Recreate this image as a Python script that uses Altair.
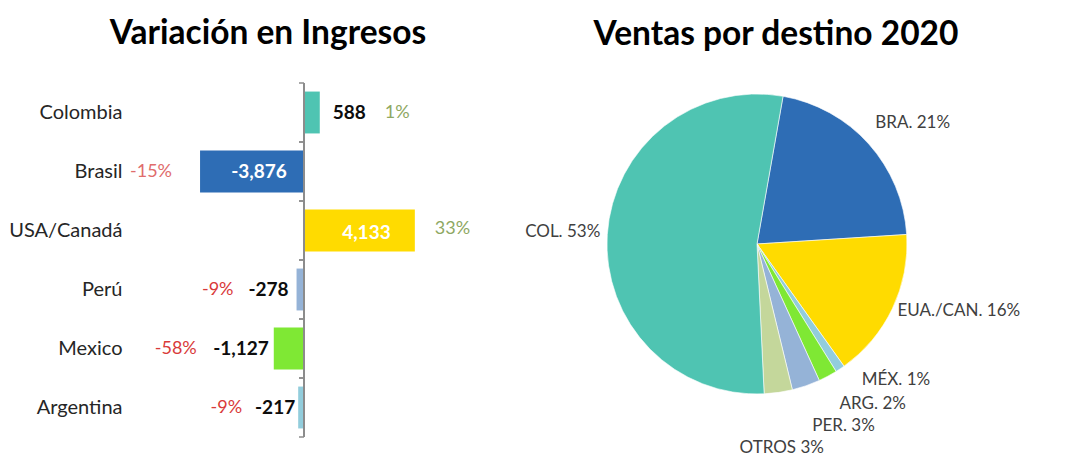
import math
import altair as alt
import pandas as pd

FONT = "Lato"

# ---- data: Variación en Ingresos ----
categories = ["Colombia", "Brasil", "USA/Canadá", "Perú", "Mexico", "Argentina"]
variacion = [588, -3876, 4133, -278, -1127, -217]
variacion_pct = [1, -15, 33, -9, -58, -9]
bar_colors = ["#4FC4B2", "#2E6DB5", "#FFDB00", "#95B3D7", "#7FE834", "#92CDDC"]

# ---- data: Ventas por destino 2020 ----
pie_labels = ["BRA. 21%", "EUA./CAN. 16%", "MÉX. 1%", "ARG. 2%", "PER. 3%", "OTROS 3%", "COL. 53%"]
pie_share = [21, 16, 1, 2, 3, 3, 53]
pie_colors = ["#2E6DB5", "#FFDB00", "#92CDDC", "#7FE834", "#95B3D7", "#C4D79B", "#4FC4B2"]

# ---------------- left: diverging bars ----------------
df = pd.DataFrame({"pais": categories, "valor": variacion, "pct": variacion_pct})
df["valor_txt"] = [f"{v:,}" for v in variacion]
df["pct_txt"] = [f"{p}%" for p in variacion_pct]
df["mitad"] = df["valor"] / 2

H_LEFT = 354
PAD_IN = 0.29
PAD_OUT = PAD_IN / 2
STEP = H_LEFT / len(categories)
xscale = alt.Scale(domain=[-6600, 6600])
yscale = alt.Scale(paddingInner=PAD_IN, paddingOuter=PAD_OUT)
Y = alt.Y(
    "pais:N", sort=categories, title=None, scale=yscale,
    axis=alt.Axis(ticks=False, domain=False, labelFont=FONT, labelFontSize=20,
                  labelColor="#262626", labelPadding=5, minExtent=122, maxExtent=122),
)

bars = alt.Chart(df).mark_bar().encode(
    x=alt.X("valor:Q", scale=xscale, axis=None),
    y=Y,
    color=alt.Color("pais:N", scale=alt.Scale(domain=categories, range=bar_colors), legend=None),
)

zero_line = alt.Chart(df).transform_calculate(zero="0").mark_rule(
    color="#8C8C8C", strokeWidth=1.5
).encode(x=alt.X("zero:Q", scale=xscale, axis=None))

# tick marks at the band boundaries
edge = PAD_OUT * STEP
tick_layers = []
for bp, off in ((0, -edge), (1, edge)):
    tick_layers.append(
        alt.Chart(df).transform_calculate(zero="0").mark_rule(
            color="#8C8C8C", strokeWidth=1.5, x2Offset=-5, yOffset=off
        ).encode(
            x=alt.X("zero:Q", scale=xscale, axis=None),
            x2="zero:Q",
            y=alt.Y("pais:N", sort=categories, title=None, scale=yscale, bandPosition=bp),
        )
    )

# label styles: (anchor field, align, dx, dy, colour)
value_style = {
    "Colombia": ("valor", "left", 13, 0, "#0D0D0D"),
    "Brasil": ("mitad", "center", 7, 0, "#FFFFFF"),
    "USA/Canadá": ("mitad", "center", 7, 2, "#FFFFFF"),
    "Perú": ("valor", "right", -8, 0, "#0D0D0D"),
    "Mexico": ("valor", "right", -5, 0, "#0D0D0D"),
    "Argentina": ("valor", "right", -3, 0, "#0D0D0D"),
}
pct_style = {
    "Colombia": ("left", 65, 0, "#8EA862"),
    "Brasil": ("right", -28, 0, "#E06C6C"),
    "USA/Canadá": ("left", 20, -2, "#8EA862"),
    "Perú": ("right", -63, 0, "#D93A3A"),
    "Mexico": ("right", -77, 0, "#D93A3A"),
    "Argentina": ("right", -56, 0, "#D93A3A"),
}

text_layers = []
for cat in categories:
    field, align, dx, dy, color = value_style[cat]
    text_layers.append(
        alt.Chart(df).transform_filter(alt.datum.pais == cat).mark_text(
            align=align, baseline="middle", dx=dx, dy=dy, font=FONT, fontSize=19,
            fontWeight="bold", color=color,
        ).encode(x=alt.X(f"{field}:Q", scale=xscale, axis=None), y=Y, text="valor_txt:N")
    )
    align, dx, dy, color = pct_style[cat]
    text_layers.append(
        alt.Chart(df).transform_filter(alt.datum.pais == cat).mark_text(
            align=align, baseline="middle", dx=dx, dy=dy, font=FONT, fontSize=18, color=color,
        ).encode(x=alt.X("valor:Q", scale=xscale, axis=None), y=Y, text="pct_txt:N")
    )

left = alt.layer(bars, zero_line, *tick_layers, *text_layers).properties(
    width=354, height=H_LEFT,
    title=alt.TitleParams("Variación en Ingresos", dx=-36),
)

# ---------------- right: pie ----------------
total = sum(pie_share)
cum = []
acc = 0
for s in pie_share:
    cum.append(acc)
    acc += s
pie_df = pd.DataFrame({"label": pie_labels, "share": pie_share})
pie_df["start"] = cum
pie_df["end"] = pie_df["start"] + pie_df["share"]
pie_df["mid"] = (pie_df["start"] + pie_df["end"]) / 2

start_rad = math.radians(10)
theta_scale = alt.Scale(domain=[0, total], range=[start_rad, start_rad + 2 * math.pi])

arcs = alt.Chart(pie_df).mark_arc(outerRadius=150, stroke="white", strokeWidth=0.6).encode(
    theta=alt.Theta("start:Q", scale=theta_scale, stack=None),
    theta2="end:Q",
    color=alt.Color("label:N", scale=alt.Scale(domain=pie_labels, range=pie_colors), legend=None),
)

# label placement: (align, dx, dy)
pie_label_style = {
    "BRA. 21%": ("left", -1, -14),
    "EUA./CAN. 16%": ("left", -4, -2),
    "MÉX. 1%": ("left", 16, 3),
    "ARG. 2%": ("left", 7, 19),
    "PER. 3%": ("left", 3, 31),
    "OTROS 3%": ("center", 2, 46),
    "COL. 53%": ("right", 3, -2),
}
pie_text = []
for lab in pie_labels:
    align, dx, dy = pie_label_style[lab]
    pie_text.append(
        alt.Chart(pie_df).transform_filter(alt.datum.label == lab).mark_text(
            radius=160, align=align, baseline="middle", dx=dx, dy=dy,
            font=FONT, fontSize=17, color="#404040",
        ).encode(theta=alt.Theta("mid:Q", scale=theta_scale, stack=None), text="label:N")
    )

right = alt.layer(arcs, *pie_text).properties(
    width=512, height=322,
    title=alt.TitleParams("Ventas por destino 2020", dx=19),
)

chart = alt.hconcat(left, right, spacing=20).resolve_scale(color="independent").properties(
    padding={"left": 5, "top": 16, "right": 5, "bottom": 5}
).configure_view(stroke=None).configure_title(
    font=FONT, fontSize=33.5, fontWeight="bold", color="#000000", anchor="middle", offset=31,
)

chart.save("out.html", embed_options={"renderer": "svg", "actions": False})
